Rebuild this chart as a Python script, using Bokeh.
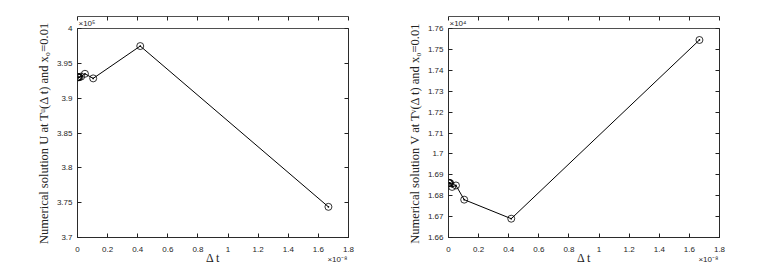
from bokeh.plotting import figure
from bokeh.layouts import row
from bokeh.models import LinearAxis, FixedTicker, Title, CustomJSTickFormatter
from bokeh.embed import file_html
from bokeh.resources import INLINE

# Time step Δt (in units of 1e-8)
dt = [1.6667, 0.4167, 0.1042, 0.0496, 0.0240, 0.0118, 0.0059, 0.0029, 0.0015]
# Numerical solution U (in units of 1e5)
u_vals = [3.7440, 3.9748, 3.9284, 3.9350, 3.9310, 3.9302, 3.9300, 3.9301, 3.9301]
# Numerical solution V (in units of 1e4)
v_vals = [1.7545, 1.6690, 1.6781, 1.6849, 1.6842, 1.6860, 1.6861, 1.6861, 1.6861]

x_ticks = [0, 0.2, 0.4, 0.6, 0.8, 1.0, 1.2, 1.4, 1.6, 1.8]
u_ticks = [3.7, 3.75, 3.8, 3.85, 3.9, 3.95, 4.0]
v_ticks = [1.66, 1.67, 1.68, 1.69, 1.70, 1.71, 1.72, 1.73, 1.74, 1.75, 1.76]

# last x tick carries the MATLAB-style exponent on a second line
x_fmt = CustomJSTickFormatter(code="""
const s = String(parseFloat(tick.toFixed(4)));
if (Math.abs(tick - 1.8) < 1e-9) { return s + "\\n×10⁻⁸" + "\\u2007\\u2007\\u2007\\u2007\\u2007"; }
return s;
""")
y_fmt = CustomJSTickFormatter(code="return String(parseFloat(tick.toFixed(4)));")

TICK_FONT = "Liberation Sans"
LABEL_FONT = "Liberation Serif"


def style_axis(ax):
    ax.major_tick_in = 4
    ax.major_tick_out = 0
    ax.minor_tick_in = 0
    ax.minor_tick_out = 0
    ax.axis_line_color = "#222222"
    ax.axis_line_width = 0.8
    ax.major_tick_line_color = "#222222"


def make_panel(yvals, yticks, ylabel, yexp, border_left, border_right, border_top):
    p = figure(width=376, height=268, output_backend="svg", toolbar_location=None,
               x_range=(0, 1.8), y_range=(yticks[0], yticks[-1]),
               min_border_left=border_left, min_border_right=border_right,
               min_border_top=border_top, min_border_bottom=31)
    p.grid.visible = False
    p.outline_line_color = "#222222"
    p.outline_line_width = 0.8

    # exponent label of the y axis (MATLAB style)
    p.add_layout(Title(text="×10" + yexp, align="left", text_font=TICK_FONT,
                       text_font_size="8px", text_font_style="normal",
                       text_color="#262626", standoff=1, offset=1), "above")

    for ax, ticks, f in ((p.xaxis[0], x_ticks, x_fmt), (p.yaxis[0], yticks, y_fmt)):
        ax.ticker = FixedTicker(ticks=ticks)
        ax.formatter = f
        style_axis(ax)
        ax.major_label_text_font = TICK_FONT
        ax.major_label_text_font_size = "8px"
        ax.major_label_text_color = "#262626"
        ax.axis_label_text_font = LABEL_FONT
        ax.axis_label_text_font_style = "normal"
        ax.axis_label_text_color = "#222222"

    p.xaxis.major_label_standoff = 7
    p.yaxis.major_label_standoff = 5
    p.xaxis.axis_label = "Δ t"
    p.xaxis.axis_label_text_font_size = "12px"
    p.xaxis.axis_label_standoff = -16
    p.yaxis.axis_label = ylabel
    p.yaxis.axis_label_text_font_size = "12.5px"
    p.yaxis.axis_label_standoff = 3

    # box ticks on top and right
    top = LinearAxis(ticker=FixedTicker(ticks=x_ticks))
    right = LinearAxis(ticker=FixedTicker(ticks=yticks))
    for ax in (top, right):
        style_axis(ax)
        ax.major_label_text_font_size = "1px"
        ax.major_label_text_alpha = 0
        ax.major_label_standoff = 0
    p.add_layout(top, "above")
    p.add_layout(right, "right")

    p.line(dt, yvals, line_color="black", line_width=1)
    p.scatter(dt, yvals, marker="circle_dot", size=7, fill_color=None,
              line_color="black", line_width=0.8)
    return p


p1 = make_panel(u_vals, u_ticks, "Numerical solution U at Tᵘ(Δ t) and x₀=0.01", "⁵",
                77, 28, 26)
p2 = make_panel(v_vals, v_ticks, "Numerical solution V at Tᵛ(Δ t) and x₀=0.01", "⁴",
                72, 33, 28)

layout = row(p1, p2)
open("out.html", "w").write(file_html(layout, INLINE))
